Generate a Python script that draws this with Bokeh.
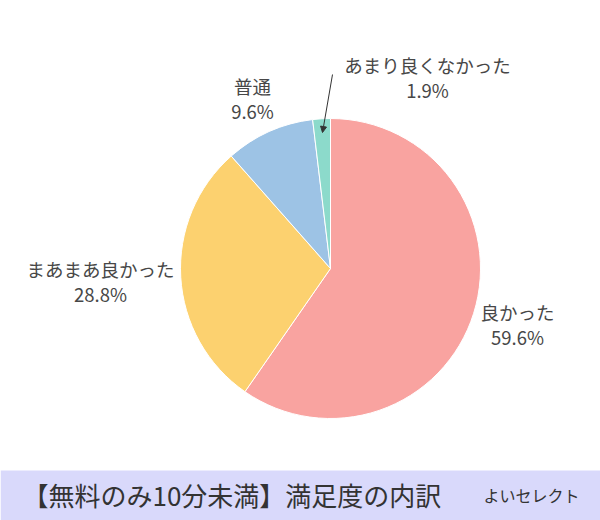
import math
from bokeh.plotting import figure
from bokeh.models import Range1d, Arrow, NormalHead, ColumnDataSource
from bokeh.core.properties import value
from bokeh.embed import file_html
from bokeh.resources import INLINE

# ---- data ----
categories = ["良かった", "まあまあ良かった", "普通", "あまり良くなかった"]
percents = [59.6, 28.8, 9.6, 1.9]
colors = ["#F9A3A0", "#FCD16F", "#9DC3E5", "#8CDACB"]
title_text = "【無料のみ10分未満】満足度の内訳"
brand_text = "よいセレクト"

# ---- layout (reference pixel coords) ----
W, H = 600, 520
CX, CY, R = 330, 268, 150
label_pos = [(517, 311), (100, 268), (252, 85), (427, 64)]
FONT = "Noto Sans CJK JP"

def Y(y):
    return H - y

p = figure(width=W, height=H, output_backend="svg", toolbar_location=None,
           x_range=Range1d(0, W), y_range=Range1d(0, H),
           min_border=0, outline_line_color=None)
p.axis.visible = False
p.grid.visible = False
p.background_fill_color = "white"
p.border_fill_color = "white"

total = sum(percents)
starts, ends = [], []
cum = 0.0
for v in percents:
    starts.append(math.pi / 2 - 2 * math.pi * cum / total)
    cum += v
    ends.append(math.pi / 2 - 2 * math.pi * cum / total)

src = ColumnDataSource(dict(x=[CX] * len(percents), y=[Y(CY)] * len(percents),
                            start=starts, end=ends, color=colors))
p.wedge(x="x", y="y", radius=R, start_angle="start", end_angle="end",
        direction="clock", fill_color="color", line_color="white", line_width=1,
        source=src)

# labels
names_x = [lp[0] for lp in label_pos]
names_y = [Y(lp[1]) for lp in label_pos]
pct_y = [Y(lp[1] + 25) for lp in label_pos]
pct_txt = [f"{v:.1f}%" for v in percents]
p.text(x=names_x, y=names_y, text=categories, text_align="center",
       text_baseline="middle", text_font=value(FONT), text_font_size="18.5px",
       text_color="#474747")
p.text(x=names_x, y=pct_y, text=pct_txt, text_align="center",
       text_baseline="middle", text_font=value(FONT), text_font_size="18.5px",
       text_color="#474747")

# arrow for small slice
p.add_layout(Arrow(end=NormalHead(size=6, fill_color="#333333", line_color="#333333"),
                   x_start=332, y_start=Y(74), x_end=322, y_end=Y(132),
                   line_color="#333333", line_width=1))

# bottom banner
p.quad(left=[0], right=[W], bottom=[Y(H)], top=[Y(470)], fill_color="#D9D9FB",
       line_color=None)
p.text(x=[22], y=[Y(494)], text=[title_text], text_align="left",
       text_baseline="middle", text_font=value(FONT), text_font_size="26px",
       text_color="#333333")
p.text(x=[483], y=[Y(494)], text=[brand_text], text_align="left",
       text_baseline="middle", text_font=value(FONT), text_font_size="16px",
       text_color="#333333")

open("out.html", "w").write(file_html(p, INLINE))
